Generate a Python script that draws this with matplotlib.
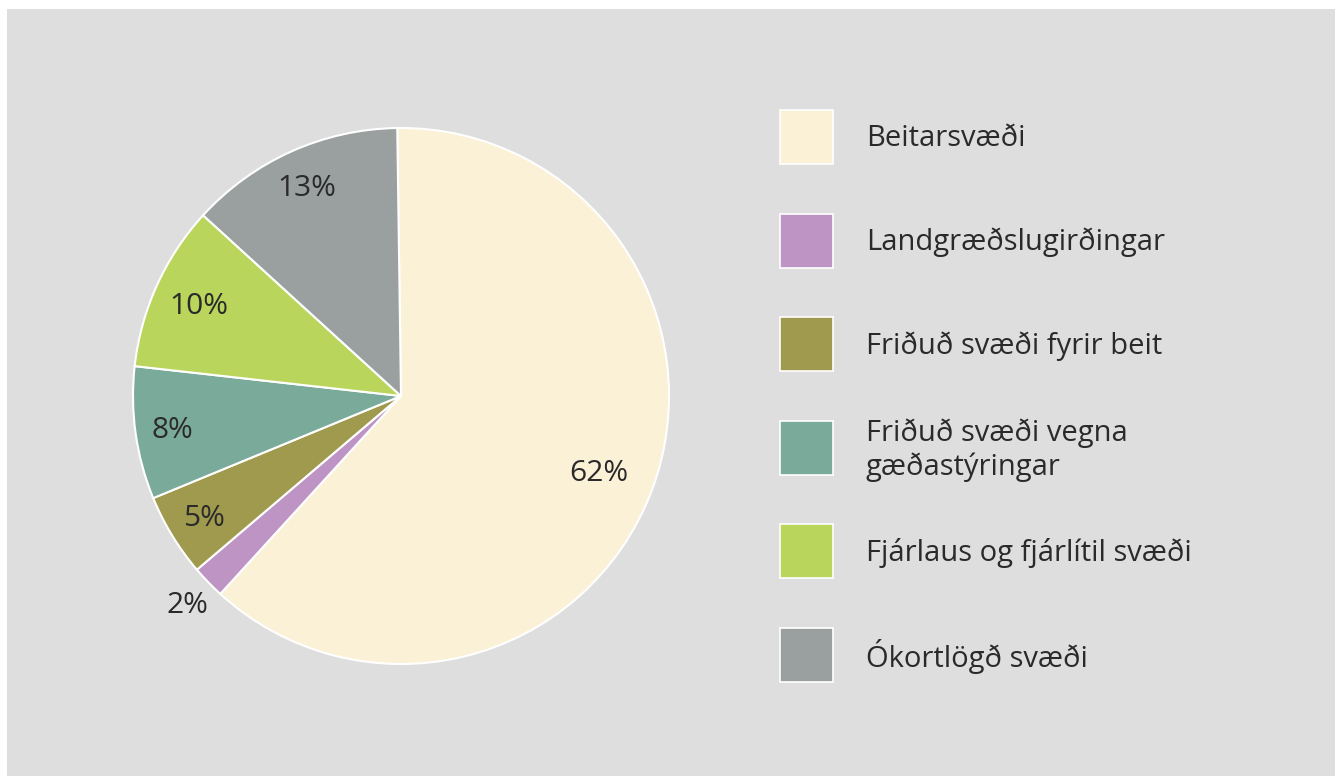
import matplotlib.pyplot as plt
import numpy as np
from matplotlib.patches import Rectangle

plt.rcParams['font.family'] = ['Open Sans', 'DejaVu Sans']

# data
categories = ["Beitarsvæði", "Landgræðslugirðingar", "Friðuð svæði fyrir beit",
              "Friðuð svæði vegna\ngæðastýringar", "Fjárlaus og fjárlítil svæði",
              "Ókortlögð svæði"]
shares = [62, 2, 5, 8, 10, 13]
pct_labels = ["62%", "2%", "5%", "8%", "10%", "13%"]
colors = ["#fbf1d6", "#bd94c4", "#a09a4e", "#7aab9a", "#b9d55b", "#9aa09f"]
label_dist = [0.79, 1.11, 0.86, 0.86, 0.83, 0.86]

W, H = 1339, 776
fig = plt.figure(figsize=(W / 100, H / 100), dpi=100)
fig.patch.set_facecolor("white")

# grey panel
bg = fig.add_axes([7 / W, 0, (1335 - 7) / W, (H - 9) / H])
bg.set_facecolor("#dedede")
bg.set_xticks([]); bg.set_yticks([])
for s in bg.spines.values():
    s.set_visible(False)

# pie
cx, cy, r = 401, 396, 268
ax = fig.add_axes([(cx - r) / W, 1 - (cy + r) / H, 2 * r / W, 2 * r / H])
ax.set_axis_off()
wedges, _ = ax.pie(shares, colors=colors, startangle=90.8, counterclock=False,
                   radius=1, wedgeprops=dict(edgecolor="white", linewidth=1.5))
ax.set_xlim(-1, 1); ax.set_ylim(-1, 1)
for w, lab, d in zip(wedges, pct_labels, label_dist):
    ang = np.deg2rad((w.theta1 + w.theta2) / 2)
    ax.text(d * np.cos(ang), d * np.sin(ang) - 0.01, lab, ha="center", va="center",
            fontsize=21.5, color="#2a2a2a")

# legend
lg = fig.add_axes([0, 0, 1, 1])
lg.set_axis_off()
lg.set_xlim(0, W); lg.set_ylim(H, 0)
for i, (cat, c) in enumerate(zip(categories, colors)):
    yc = 137 + i * 103.6
    lg.add_patch(Rectangle((780, yc - 27), 53, 54, facecolor=c,
                           edgecolor="white", linewidth=1.2))
    lg.text(866, yc + 2, cat, ha="left", va="center", fontsize=21,
            color="#2a2a2a", linespacing=1.2)

fig.savefig("out.png", dpi=100)
